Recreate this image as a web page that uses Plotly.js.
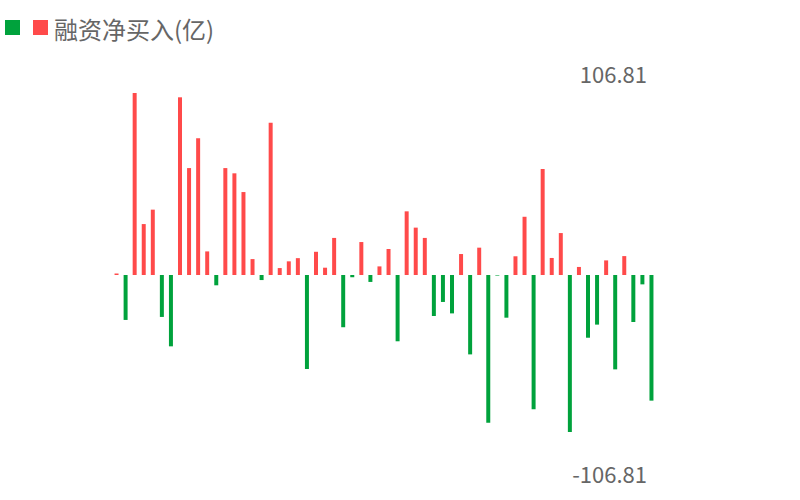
<!DOCTYPE html>
<html>
<head>
<meta charset="utf-8">
<script src="https://cdn.plot.ly/plotly-3.0.1.min.js"></script>
<style>html,body{margin:0;padding:0;background:#fff;}#chart{width:800px;height:500px;}</style>
</head>
<body>
<div id="chart"></div>
<script>
// categories (trading days, labels not shown in the reference)
const categories = ["1","2","3","4","5","6","7","8","9","10","11","12","13","14","15","16","17","18","19","20",
  "21","22","23","24","25","26","27","28","29","30","31","32","33","34","35","36","37","38","39","40",
  "41","42","43","44","45","46","47","48","49","50","51","52","53","54","55","56","57","58","59","60"];
// 融资净买入(亿)
const netBuy = [0.8, -24.0, 97.2, 27.2, 34.9, -22.4, -38.1, 94.9, 57.1, 73.0,
  12.6, -5.5, 57.1, 54.3, 44.3, 8.5, -2.7, 81.3, 3.7, 7.3,
  9.0, -50.2, 12.4, 3.9, 19.8, -27.9, -1.2, 17.6, -3.7, 4.6,
  13.9, -35.4, 34.0, 25.3, 19.8, -21.9, -14.4, -20.5, 11.2, -42.4,
  14.6, -78.9, -0.3, -22.8, 10.0, 31.1, -71.7, 56.6, 9.1, 22.4,
  -83.8, 4.3, -33.5, -26.5, 7.8, -50.4, 10.1, -25.1, -5.0, -67.1];
const axisMax = 106.81;
const axisLabels = ["-106.81", "106.81"];
const seriesName = "融资净买入(亿)";

const RED = "#ff4a4a", GREEN = "#00a23c";
const pos = netBuy.map(v => v >= 0 ? v : null);
const neg = netBuy.map(v => v < 0 ? v : null);

const traces = [
  {type: "bar", x: categories, y: pos, marker: {color: RED}, name: seriesName, hoverinfo: "y"},
  {type: "bar", x: categories, y: neg, marker: {color: GREEN}, name: "", hoverinfo: "y"}
];

const L = 112, R = 144, T = 75, B = 25, W = 800, H = 500;
const pw = W - L - R, ph = H - T - B;
const px = p => (p - L) / pw;
const py = p => (H - B - p) / ph;

const layout = {
  width: W, height: H,
  margin: {l: L, r: R, t: T, b: B, pad: 0},
  paper_bgcolor: "#fff", plot_bgcolor: "#fff",
  showlegend: false,
  barmode: "overlay",
  bargap: 0.56,
  font: {family: "'Noto Sans CJK SC', 'Noto Sans', sans-serif", color: "#666"},
  xaxis: {type: "category", range: [-0.5, categories.length - 0.5], autorange: false,
    showticklabels: false, showgrid: false, zeroline: false, showline: false, ticks: ""},
  yaxis: {
    range: [-axisMax, axisMax], autorange: false, side: "right", ticklabelposition: "inside",
    ticklabeloverflow: "allow", ticklabelstandoff: 6,
    tickvals: [-axisMax, axisMax], ticktext: axisLabels,
    tickfont: {size: 22, color: "#666"},
    showgrid: false, zeroline: false, showline: false, ticks: ""
  },
  shapes: [
    {type: "rect", xref: "paper", yref: "paper", x0: px(5), x1: px(20), y0: py(35), y1: py(20), fillcolor: GREEN, line: {width: 0}},
    {type: "rect", xref: "paper", yref: "paper", x0: px(33), x1: px(48), y0: py(35), y1: py(20), fillcolor: RED, line: {width: 0}}
  ],
  annotations: [
    {xref: "paper", yref: "paper", x: px(52), y: py(28), xanchor: "left", yanchor: "middle",
     text: seriesName, showarrow: false, font: {size: 24, color: "#666"}}
  ]
};

Plotly.newPlot("chart", traces, layout, {displayModeBar: false, staticPlot: true});
</script>
</body>
</html>
